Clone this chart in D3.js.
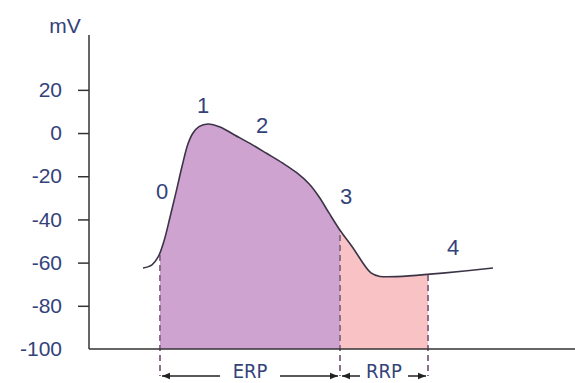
<!DOCTYPE html>
<html>
<head>
<meta charset="utf-8">
<script src="https://cdn.jsdelivr.net/npm/d3@7"></script>
<style>
  body { margin: 0; background: #fff; }
  svg text { font-family: "Liberation Sans", Arial, sans-serif; }
</style>
</head>
<body>
<div id="chart"></div>
<script>
// action potential trace, time in ms (arbitrary origin), membrane potential in mV
var timeMs  = [54, 63, 69, 75, 81, 87, 93, 99, 104, 110, 119, 131, 146, 161, 178, 194, 208, 220, 230, 240, 251, 263, 282, 291, 404];
var voltage = [-62.5, -61, -57.5, -50, -39, -27.5, -15.5, -5, 0, 3, 4.2, 2.8, -1, -4.8, -9.5, -14, -18.5, -23.5, -29.5, -37, -45, -52.5, -64.8, -66.4, -62.5];

var yTicks = [20, 0, -20, -40, -60, -80, -100];

var phaseNames = ["0", "1", "2", "3", "4"];
var phaseTime  = [73, 114, 173, 257, 364];
var phaseMv    = [-30.6, 9.3, 0, -32.9, -56.5];

// refractory periods: [start, end] in ms
var periodNames = ["ERP", "RRP"];
var periodStart = [71, 251];
var periodEnd   = [251, 339];
var periodFill  = ["#cfa3d0", "#f9c3c6"];

var data = timeMs.map(function (t, i) { return { t: t, v: voltage[i] }; });

var outerWidth = 575;
var outerHeight = 383;
var margin = { left: 89, top: 35, right: 0, bottom: 34 };
var innerWidth  = outerWidth  - margin.left - margin.right;
var innerHeight = outerHeight - margin.top  - margin.bottom;

var svg = d3.select('#chart').append('svg')
    .attr('width', outerWidth)
    .attr('height', outerHeight);

var defs = svg.append('defs');
var g = svg.append('g')
    .attr('transform', 'translate(' + margin.left + ',' + margin.top + ')');

var xScale = d3.scaleLinear().domain([0, innerWidth]).range([0, innerWidth]);
var yScale = d3.scaleLinear().domain([-100, 45.4]).range([innerHeight, 0]);

var labelColor = '#34427a';
var smooth = d3.curveCatmullRom.alpha(0.5);

// shaded refractory bands, clipped to their time span
var area = d3.area()
    .x(function (d) { return xScale(d.t); })
    .y0(innerHeight)
    .y1(function (d) { return yScale(d.v); })
    .curve(smooth);

periodNames.forEach(function (name, i) {
    defs.append('clipPath').attr('id', 'clip' + name)
        .append('rect')
        .attr('x', xScale(periodStart[i]))
        .attr('y', -margin.top)
        .attr('width', xScale(periodEnd[i]) - xScale(periodStart[i]))
        .attr('height', outerHeight);
    g.append('path')
        .attr('d', area(data))
        .attr('fill', periodFill[i])
        .attr('clip-path', 'url(#clip' + name + ')');
});

// dashed boundaries, clipped under the curve but running past the axis
var underCurve = d3.area()
    .x(function (d) { return xScale(d.t); })
    .y0(innerHeight + 40)
    .y1(function (d) { return yScale(d.v); })
    .curve(smooth);
defs.append('clipPath').attr('id', 'clipUnder')
    .append('path').attr('d', underCurve(data));

var bounds = [periodStart[0], periodEnd[0], periodEnd[1]];
g.append('g').attr('clip-path', 'url(#clipUnder)')
    .selectAll('line')
    .data(bounds)
    .enter()
    .append('line')
    .attr('x1', function (d) { return xScale(d); })
    .attr('x2', function (d) { return xScale(d); })
    .attr('y1', 0)
    .attr('y2', innerHeight + 27)
    .attr('stroke', '#8c6f8c')
    .attr('stroke-width', 2)
    .attr('stroke-dasharray', '6,4');

// axes
var yAxis = d3.axisLeft(yScale)
    .tickValues(yTicks)
    .tickSize(11)
    .tickPadding(16)
    .tickFormat(function (d) { return String(d); });
var yAxisG = g.append('g').call(yAxis);
yAxisG.select('.domain').remove();
yAxisG.selectAll('line').attr('stroke', '#333').attr('stroke-width', 1.5);
yAxisG.selectAll('.tick')
    .filter(function (d) { return d === -100; })
    .select('line').remove();
yAxisG.selectAll('text')
    .attr('fill', labelColor)
    .style('font-size', '21px');

g.append('line')
    .attr('x1', 0).attr('x2', 0)
    .attr('y1', 0).attr('y2', innerHeight)
    .attr('stroke', '#333').attr('stroke-width', 1.5);
g.append('line')
    .attr('x1', 0).attr('x2', innerWidth)
    .attr('y1', innerHeight).attr('y2', innerHeight)
    .attr('stroke', '#333').attr('stroke-width', 1.5);

svg.append('text')
    .attr('x', 65)
    .attr('y', 33)
    .attr('text-anchor', 'middle')
    .attr('fill', labelColor)
    .style('font-size', '21px')
    .text('mV');

// the trace
var line = d3.line()
    .x(function (d) { return xScale(d.t); })
    .y(function (d) { return yScale(d.v); })
    .curve(smooth);

g.append('path')
    .attr('d', line(data))
    .attr('fill', 'none')
    .attr('stroke', '#3b3447')
    .attr('stroke-width', 1.6);

// phase numbers
g.selectAll('.phase')
    .data(phaseNames)
    .enter()
    .append('text')
    .attr('class', 'phase')
    .attr('x', function (d, i) { return xScale(phaseTime[i]); })
    .attr('y', function (d, i) { return yScale(phaseMv[i]); })
    .attr('text-anchor', 'middle')
    .attr('fill', labelColor)
    .style('font-size', '22px')
    .text(function (d) { return d; });

// period arrows
defs.append('marker').attr('id', 'head')
    .attr('viewBox', '0 0 10 10')
    .attr('refX', 10).attr('refY', 5)
    .attr('markerWidth', 8).attr('markerHeight', 8)
    .attr('markerUnits', 'userSpaceOnUse')
    .attr('orient', 'auto-start-reverse')
    .append('path').attr('d', 'M0,1L10,5L0,9Z').attr('fill', '#222');

var arrowY = innerHeight + 27;
var textHalf = [30, 24];
periodNames.forEach(function (name, i) {
    var x0 = xScale(periodStart[i]) + 2;
    var x1 = xScale(periodEnd[i]) - 2;
    var mid = (x0 + x1) / 2;
    g.append('line')
        .attr('x1', x0).attr('x2', mid - textHalf[i])
        .attr('y1', arrowY).attr('y2', arrowY)
        .attr('stroke', '#222').attr('stroke-width', 1.5)
        .attr('marker-start', 'url(#head)');
    g.append('line')
        .attr('x1', mid + textHalf[i]).attr('x2', x1)
        .attr('y1', arrowY).attr('y2', arrowY)
        .attr('stroke', '#222').attr('stroke-width', 1.5)
        .attr('marker-end', 'url(#head)');
    g.append('text')
        .attr('x', mid)
        .attr('y', arrowY + 2)
        .attr('text-anchor', 'middle')
        .attr('fill', labelColor)
        .style('font-family', '"Liberation Sans Narrow", "DejaVu Sans Condensed", sans-serif')
        .style('font-size', '20px')
        .text(name);
});
</script>
</body>
</html>
